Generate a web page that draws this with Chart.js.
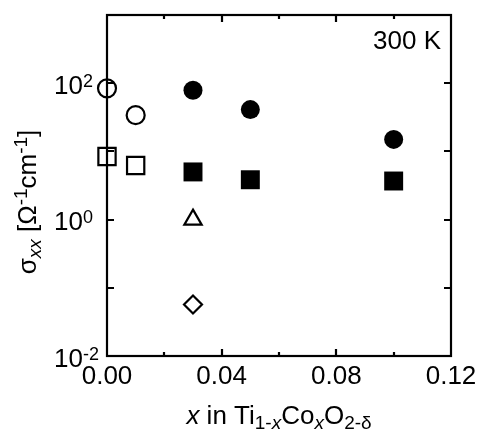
<!DOCTYPE html>
<html>
<head>
<meta charset="utf-8">
<script src="https://cdn.jsdelivr.net/npm/chart.js@4/dist/chart.umd.min.js"></script>
<style>
  html, body { margin: 0; padding: 0; background: #fff; }
  #wrap { width: 478px; height: 439px; }
</style>
</head>
<body>
<div id="wrap"><canvas id="c" width="478" height="439"></canvas></div>
<script>
// Room-temperature conductivity of Ti(1-x)Co(x)O(2-δ) films vs Co content x
const openCircleX = [0.000, 0.010];
const openCircleY = [84, 34];
const openSquareX = [0.000, 0.010];
const openSquareY = [8.4, 6.2];
const filledCircleX = [0.03, 0.05, 0.10];
const filledCircleY = [79, 41, 15];
const filledSquareX = [0.03, 0.05, 0.10];
const filledSquareY = [5.0, 3.84, 3.68];
const triangleX = [0.03];
const triangleY = [1.0];
const diamondX = [0.03];
const diamondY = [0.057];

// axis ticks and labels
const xMinorTicks = [0.02, 0.06, 0.10];
const xMajorTicks = [0.04, 0.08];
const xLabelValues = [0.00, 0.04, 0.08, 0.12];
const xLabels = ['0.00', '0.04', '0.08', '0.12'];
const yTickValues = [0.1, 1, 10, 100];
const yLabelValues = [0.01, 1, 100];
const yLabelExponents = ['-2', '0', '2'];
const tempLabel = '300 K';

const FAMILY = '"Liberation Sans", Arial, Helvetica, sans-serif';
const font = (size, italic) => (italic ? 'italic ' : '') + size + 'px ' + FAMILY;

function pairs(xs, ys) {
  return xs.map((x, i) => ({ x: x, y: ys[i] }));
}

function richWidth(ctx, segs) {
  let w = 0;
  for (const s of segs) { ctx.font = font(s.size, s.italic); w += ctx.measureText(s.t).width; }
  return w;
}
function drawRich(ctx, segs, x, y) {
  let cx = x;
  for (const s of segs) {
    ctx.font = font(s.size, s.italic);
    ctx.fillText(s.t, cx, y + (s.dy || 0));
    cx += ctx.measureText(s.t).width;
  }
}

const M = 26, S = 19;
const xTitle = [
  { t: 'x', size: M, italic: true },
  { t: ' in Ti', size: M },
  { t: '1-', size: S, dy: 5 },
  { t: 'x', size: S, italic: true, dy: 5 },
  { t: 'Co', size: M },
  { t: 'x', size: S, italic: true, dy: 5 },
  { t: 'O', size: M },
  { t: '2-δ', size: S, dy: 5 }
];
const yTitle = [
  { t: 'σ', size: M },
  { t: 'xx', size: S, italic: true, dy: 5 },
  { t: ' [Ω', size: M },
  { t: '-1', size: S, dy: -9 },
  { t: 'cm', size: M },
  { t: '-1', size: S, dy: -9 },
  { t: ']', size: M }
];

const framePlugin = {
  id: 'frame',
  afterDraw(chart) {
    const { ctx, chartArea: a, scales: { x, y } } = chart;
    ctx.save();
    ctx.strokeStyle = '#000';
    ctx.fillStyle = '#000';
    ctx.lineWidth = 2.2;
    ctx.strokeRect(a.left, a.top, a.right - a.left, a.bottom - a.top);

    // inward tick marks on all four sides
    ctx.beginPath();
    for (const v of yTickValues) {
      const py = Math.round(y.getPixelForValue(v));
      ctx.moveTo(a.left, py); ctx.lineTo(a.left + 7, py);
      ctx.moveTo(a.right, py); ctx.lineTo(a.right - 7, py);
    }
    for (const v of xMajorTicks) {
      const px = Math.round(x.getPixelForValue(v));
      ctx.moveTo(px, a.bottom); ctx.lineTo(px, a.bottom - 7);
      ctx.moveTo(px, a.top); ctx.lineTo(px, a.top + 7);
    }
    for (const v of xMinorTicks) {
      const px = Math.round(x.getPixelForValue(v));
      ctx.moveTo(px, a.bottom); ctx.lineTo(px, a.bottom - 4);
      ctx.moveTo(px, a.top); ctx.lineTo(px, a.top + 4);
    }
    ctx.stroke();

    // x tick labels
    ctx.textBaseline = 'alphabetic';
    ctx.textAlign = 'center';
    ctx.font = font(M);
    xLabelValues.forEach((v, i) => {
      ctx.fillText(xLabels[i], x.getPixelForValue(v), a.bottom + 27.5);
    });

    // y tick labels: powers of ten
    yLabelValues.forEach((v, i) => {
      const py = y.getPixelForValue(v);
      ctx.textAlign = 'right';
      ctx.font = font(M);
      ctx.fillText('10', 83, py + 10.5);
      ctx.textAlign = 'left';
      ctx.font = font(18);
      ctx.fillText(yLabelExponents[i], 83, py + 3.5);
    });

    // temperature label
    ctx.textAlign = 'right';
    ctx.font = font(M);
    ctx.fillText(tempLabel, a.right - 10, a.top + 34);

    // axis titles
    ctx.textAlign = 'left';
    const cx = (a.left + a.right) / 2;
    const wx = richWidth(ctx, xTitle);
    drawRich(ctx, xTitle, cx - wx / 2, 424);

    const wy = richWidth(ctx, yTitle);
    ctx.translate(36, 202);
    ctx.rotate(-Math.PI / 2);
    drawRich(ctx, yTitle, -wy / 2, 0);
    ctx.restore();
  }
};

const open = { backgroundColor: 'rgba(0,0,0,0)', borderColor: '#000', borderWidth: 2.2 };
const solid = { backgroundColor: '#000', borderColor: '#000', borderWidth: 0 };

new Chart(document.getElementById('c'), {
  type: 'scatter',
  data: {
    datasets: [
      Object.assign({ label: 'open circle', data: pairs(openCircleX, openCircleY), pointStyle: 'circle', pointRadius: 9 }, open),
      Object.assign({ label: 'open square', data: pairs(openSquareX, openSquareY), pointStyle: 'rect', pointRadius: 12.2 }, open),
      Object.assign({ label: 'filled circle', data: pairs(filledCircleX, filledCircleY), pointStyle: 'circle', pointRadius: 9.5 }, solid),
      Object.assign({ label: 'filled square', data: pairs(filledSquareX, filledSquareY), pointStyle: 'rect', pointRadius: 13.4 }, solid),
      Object.assign({ label: 'triangle', data: pairs(triangleX, triangleY), pointStyle: 'triangle', pointRadius: 10 }, open),
      Object.assign({ label: 'diamond', data: pairs(diamondX, diamondY), pointStyle: 'rectRot', pointRadius: 9 }, open)
    ].map(d => Object.assign(d, { clip: false, pointHoverRadius: d.pointRadius }))
  },
  options: {
    responsive: false,
    animation: false,
    layout: { padding: { left: 107, right: 27, top: 15, bottom: 83 } },
    plugins: { legend: { display: false }, tooltip: { enabled: false } },
    scales: {
      x: { type: 'linear', min: 0, max: 0.12, display: false },
      y: { type: 'logarithmic', min: 0.01, max: 1000, display: false }
    }
  },
  plugins: [framePlugin]
});
</script>
</body>
</html>
